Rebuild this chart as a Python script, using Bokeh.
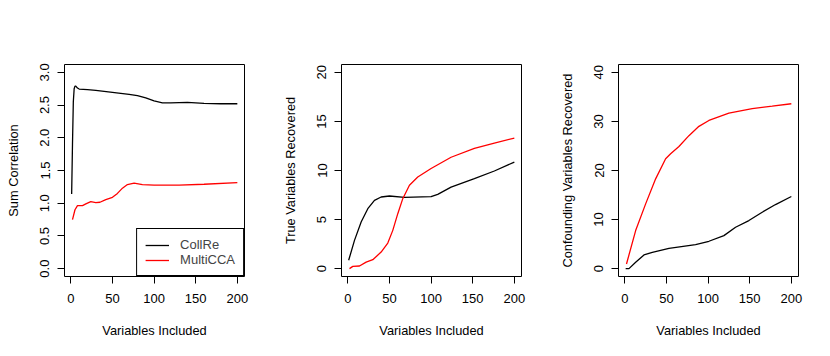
from bokeh.plotting import figure
from bokeh.layouts import row
from bokeh.models import Range1d, FixedTicker, PrintfTickFormatter, Legend, LegendItem
from bokeh.embed import file_html
from bokeh.resources import INLINE

# ---- data ----
x_ticks = [0, 50, 100, 150, 200]

# Panel 1: Sum Correlation
p1_collre_x = [1, 2, 3, 4, 5, 6, 8, 10, 15, 20, 30, 40, 50, 60, 70, 80, 90, 100, 110, 120, 140, 160, 180, 200]
p1_collre_y = [1.14, 1.9, 2.55, 2.75, 2.79, 2.79, 2.76, 2.745, 2.74, 2.735, 2.725, 2.71, 2.695, 2.68, 2.665,
               2.645, 2.61, 2.565, 2.535, 2.535, 2.54, 2.525, 2.52, 2.52]
p1_multi_x = [2, 5, 8, 14, 18, 24, 30, 35, 42, 50, 56, 62, 68, 76, 86, 100, 130, 160, 200]
p1_multi_y = [0.75, 0.9, 0.964, 0.964, 0.99, 1.025, 1.01, 1.015, 1.056, 1.09, 1.15, 1.23, 1.285, 1.306,
              1.285, 1.275, 1.275, 1.29, 1.316]
p1_ticks = [0.0, 0.5, 1.0, 1.5, 2.0, 2.5, 3.0]

# Panel 2: True Variables Recovered
p2_collre_x = [1, 8, 16, 24, 32, 40, 50, 68, 100, 108, 124, 152, 176, 200]
p2_collre_y = [0.85, 2.88, 4.75, 6.11, 6.96, 7.3, 7.4, 7.26, 7.33, 7.57, 8.31, 9.17, 9.95, 10.86]
p2_multi_x = [2, 6, 14, 22, 30, 40, 48, 54, 60, 66, 74, 84, 100, 124, 152, 176, 200]
p2_multi_y = [0.0, 0.23, 0.27, 0.67, 0.91, 1.69, 2.61, 3.9, 5.6, 7.13, 8.49, 9.33, 10.2, 11.35, 12.25, 12.8, 13.3]
p2_ticks = [0, 5, 10, 15, 20]

# Panel 3: Confounding Variables Recovered
p3_collre_x = [1, 5, 13, 23, 33, 53, 85, 101, 119, 133, 149, 165, 181, 200]
p3_collre_y = [0.0, 0.0, 1.3, 2.8, 3.33, 4.15, 4.9, 5.58, 6.73, 8.44, 9.8, 11.5, 13.06, 14.7]
p3_multi_x = [2, 13, 25, 37, 49, 55, 65, 77, 89, 101, 125, 153, 177, 200]
p3_multi_y = [0.95, 7.76, 13.2, 18.3, 22.4, 23.4, 24.9, 27.1, 29.0, 30.2, 31.7, 32.6, 33.1, 33.6]
p3_ticks = [0, 10, 20, 30, 40]

FONT = "Liberation Sans"


def make_panel(width, left, right, ylabel, yrange, yticks, fmt):
    p = figure(width=width, height=354, output_backend="svg", toolbar_location=None,
               x_range=Range1d(-7.6, 208.6), y_range=Range1d(*yrange),
               min_border_left=left, min_border_right=right, min_border_top=64, min_border_bottom=78)
    p.xgrid.visible = False
    p.ygrid.visible = False
    p.outline_line_color = "black"
    p.outline_line_width = 1
    p.outline_line_alpha = 1
    p.background_fill_color = "white"
    p.border_fill_color = "white"
    for ax in (p.xaxis[0], p.yaxis[0]):
        ax.axis_line_color = None
        ax.major_tick_line_color = "black"
        ax.major_tick_out = 7
        ax.major_tick_in = 0
        ax.minor_tick_line_color = None
        ax.major_label_text_font = FONT
        ax.major_label_text_font_size = "13px"
        ax.major_label_text_color = "black"
        ax.axis_label_text_font = FONT
        ax.axis_label_text_font_size = "12.8px"
        ax.axis_label_text_font_style = "normal"
        ax.axis_label_text_color = "black"
    p.xaxis.ticker = FixedTicker(ticks=x_ticks)
    p.xaxis.axis_label = "Variables Included"
    p.xaxis.major_label_standoff = 10
    p.xaxis.axis_label_standoff = 17
    p.yaxis.ticker = FixedTicker(ticks=yticks)
    p.yaxis.formatter = PrintfTickFormatter(format=fmt)
    p.yaxis.major_label_orientation = "vertical"
    p.yaxis.major_label_standoff = 8
    p.yaxis.axis_label = ylabel
    p.yaxis.axis_label_standoff = 17
    return p


p1 = make_panel(277, 64, 33, "Sum Correlation", (-0.12, 3.12), p1_ticks, "%.1f")
r1a = p1.line(p1_collre_x, p1_collre_y, line_color="black", line_width=1.3)
r1b = p1.line(p1_multi_x, p1_multi_y, line_color="#FF0000", line_width=1.3)
legend = Legend(items=[LegendItem(label="CollRe", renderers=[r1a]),
                       LegendItem(label="MultiCCA", renderers=[r1b])],
                location="bottom_right", margin=0, padding=8, spacing=0,
                glyph_width=24, glyph_height=14, label_height=14, label_standoff=11,
                label_text_font=FONT, label_text_font_size="13px",
                border_line_color="black", border_line_width=1, border_line_alpha=1,
                background_fill_color="white", background_fill_alpha=1)
p1.add_layout(legend, "center")

p2 = make_panel(277, 64, 33, "True Variables Recovered", (-0.8, 20.8), p2_ticks, "%d")
p2.line(p2_collre_x, p2_collre_y, line_color="black", line_width=1.3)
p2.line(p2_multi_x, p2_multi_y, line_color="#FF0000", line_width=1.3)

p3 = make_panel(274, 64, 30, "Confounding Variables Recovered", (-1.6, 41.6), p3_ticks, "%d")
p3.line(p3_collre_x, p3_collre_y, line_color="black", line_width=1.3)
p3.line(p3_multi_x, p3_multi_y, line_color="#FF0000", line_width=1.3)

layout = row(p1, p2, p3, spacing=0)
open("out.html", "w").write(file_html(layout, INLINE))
